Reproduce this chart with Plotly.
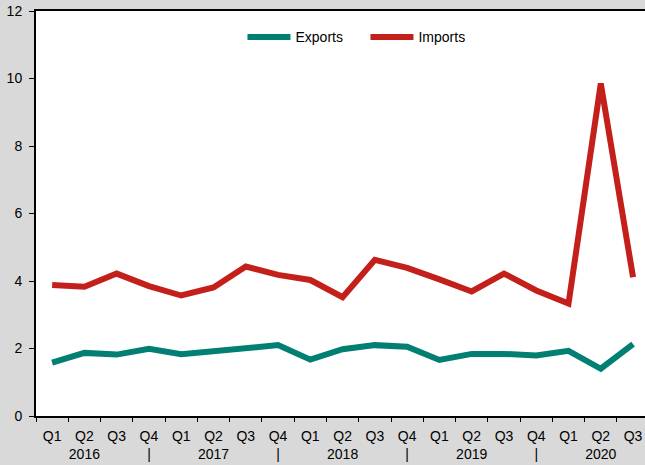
import plotly.graph_objects as go

quarters = ["Q1", "Q2", "Q3", "Q4"]
years = ["2016", "2017", "2018", "2019", "2020"]
categories = [f"{q} {y}" for y in years for q in quarters][:19]
tick_labels = []
for y in years:
    for q in quarters:
        second = {"Q2": y, "Q4": "|"}.get(q, " ")
        tick_labels.append(f"{q}<br>{second}")
tick_labels = tick_labels[:19]

exports = [1.58, 1.87, 1.82, 1.99, 1.83, 1.92, 2.02, 2.1, 1.67, 1.98, 2.1, 2.05,
           1.66, 1.84, 1.84, 1.79, 1.93, 1.4, 2.13]
imports = [3.88, 3.83, 4.22, 3.85, 3.57, 3.81, 4.43, 4.18, 4.03, 3.52, 4.63, 4.39,
           4.05, 3.69, 4.22, 3.72, 3.33, 9.85, 4.11]

fig = go.Figure()
fig.add_trace(go.Scatter(x=categories, y=exports, name="Exports", mode="lines",
                         line=dict(color="#007f72", width=6)))
fig.add_trace(go.Scatter(x=categories, y=imports, name="Imports", mode="lines",
                         line=dict(color="#c4201b", width=6)))

font = dict(family="Liberation Sans, Arial, sans-serif", size=14, color="#000000")
fig.update_layout(
    width=645, height=465,
    margin=dict(l=36, r=0, t=11, b=49),
    paper_bgcolor="#d9d9d9",
    plot_bgcolor="#ffffff",
    font=font,
    showlegend=True,
    legend=dict(orientation="h", x=0.541, xanchor="center", y=0.935, yanchor="middle",
                bgcolor="rgba(0,0,0,0)", font=dict(size=14, color="#000"),
                itemwidth=43, entrywidth=65, entrywidthmode="pixels"),
    xaxis=dict(type="category", tickmode="array", tickvals=categories, ticktext=tick_labels,
               range=[-0.5, 18.37], showgrid=False, showline=True, linecolor="#000",
               linewidth=2, mirror=True, ticks="outside", ticklen=4, tickwidth=1,
               tickcolor="#000", tickson="boundaries", tickangle=0, ticklabelstandoff=6),
    yaxis=dict(range=[0, 12], dtick=2, showgrid=False, showline=True, linecolor="#000",
               linewidth=2, ticks="outside", ticklen=5, tickwidth=1, tickcolor="#000",
               zeroline=False, ticklabelstandoff=4),
)
fig.write_html("out.html", config={"displayModeBar": False},
               post_script="document.body.style.margin='0px';document.body.style.padding='0px';")
